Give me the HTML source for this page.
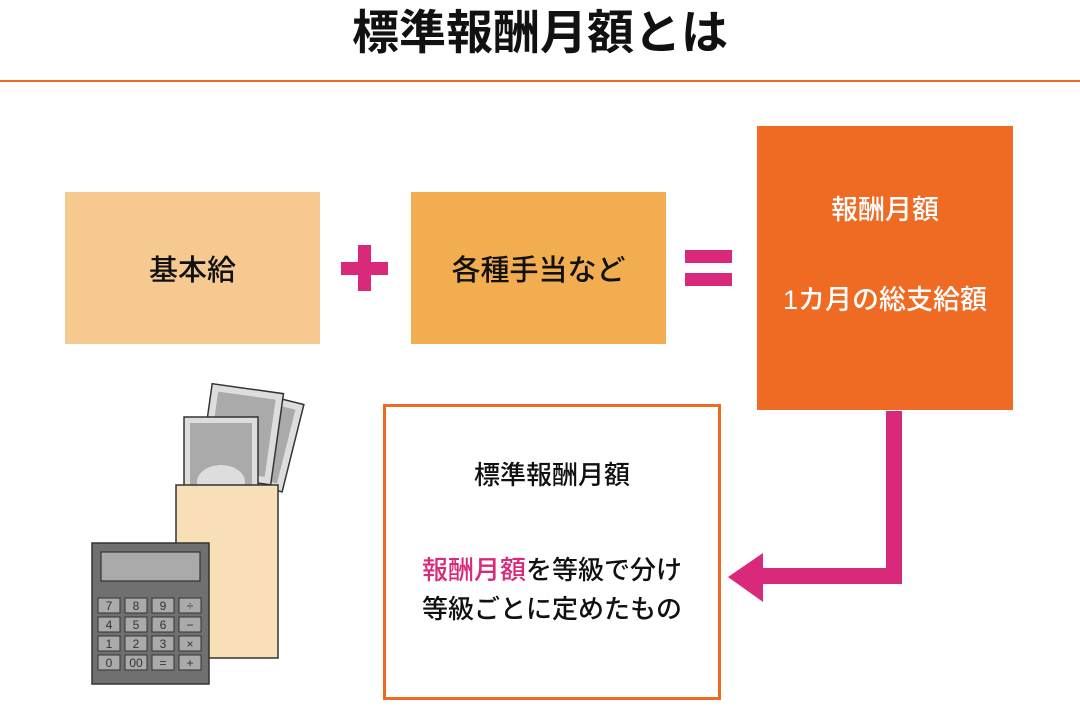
<!DOCTYPE html>
<html><head><meta charset="utf-8"><style>
body{margin:0;width:1080px;height:720px;background:#fff;position:relative;overflow:hidden;font-family:"Liberation Sans","Noto Sans CJK JP",sans-serif;}
.a{position:absolute;}
.c{display:flex;align-items:center;justify-content:center;white-space:nowrap;}
</style></head><body>
<div class="a c" style="left:0;top:0;width:1080px;height:56px;font-size:47px;font-weight:bold;color:#111;">標準報酬月額とは</div>
<div class="a" style="left:0;top:80px;width:1080px;height:2px;background:#ef6a23;"></div>
<div class="a c" style="left:65px;top:192px;width:255px;height:152px;background:#f5c98f;font-size:29px;font-weight:500;color:#111;">基本給</div>
<div class="a c" style="left:411px;top:192px;width:255px;height:152px;background:#f1ad4f;font-size:29px;font-weight:500;color:#111;">各種手当など</div>
<div class="a" style="left:341px;top:262px;width:47px;height:13px;background:#d9297a;"></div>
<div class="a" style="left:358px;top:245px;width:13px;height:46px;background:#d9297a;"></div>
<div class="a" style="left:685px;top:250px;width:47px;height:13px;background:#d9297a;"></div>
<div class="a" style="left:685px;top:273px;width:47px;height:13px;background:#d9297a;"></div>
<div class="a" style="left:757px;top:126px;width:256px;height:284px;background:#ef6a23;color:#fff;font-size:27px;font-weight:500;">
<div class="a c" style="left:0;top:63px;width:256px;height:36px;">報酬月額</div>
<div class="a c" style="left:0;top:153px;width:256px;height:36px;">1カ月の総支給額</div>
</div>
<svg class="a" style="left:0;top:0" width="1080" height="720">
<rect x="886" y="411" width="16" height="173" fill="#d9297a"/>
<rect x="760" y="568" width="142" height="16" fill="#d9297a"/>
<polygon points="728,577 763,553 763,602" fill="#d9297a"/>
<g transform="rotate(14 260 440)"><rect x="222" y="395" width="72" height="90" fill="#ddd" stroke="#333" stroke-width="1.5"/><rect x="229" y="402" width="58" height="76" fill="#aaa"/></g>
<g transform="rotate(8 240 430)"><rect x="206" y="388" width="72" height="92" fill="#ddd" stroke="#333" stroke-width="1.5"/><rect x="213" y="395" width="58" height="78" fill="#aaa"/></g>
<rect x="184" y="417" width="74" height="75" fill="#ddd" stroke="#333" stroke-width="1.5"/>
<rect x="190" y="423" width="62" height="69" fill="#aaa"/>
<ellipse cx="221" cy="482" rx="24" ry="17" fill="#ddd"/>
<rect x="176" y="485" width="102" height="173" fill="#f9dfb8" stroke="#333" stroke-width="1.5"/>
<rect x="92" y="543" width="117" height="141" fill="#707070" stroke="#333" stroke-width="1.5"/>
<rect x="101" y="552" width="99" height="29" fill="#aaa" stroke="#333" stroke-width="1.2"/>
<g font-family="Liberation Sans,DejaVu Sans,sans-serif" font-size="12" text-anchor="middle" fill="#333">
<rect x="98" y="598" width="22" height="15" fill="#aaa" stroke="#333"/><text x="109" y="610">7</text>
<rect x="125" y="598" width="22" height="15" fill="#aaa" stroke="#333"/><text x="136" y="610">8</text>
<rect x="152" y="598" width="22" height="15" fill="#aaa" stroke="#333"/><text x="163" y="610">9</text>
<rect x="179" y="598" width="22" height="15" fill="#aaa" stroke="#333"/><text x="190" y="610">÷</text>
<rect x="98" y="617" width="22" height="15" fill="#aaa" stroke="#333"/><text x="109" y="629">4</text>
<rect x="125" y="617" width="22" height="15" fill="#aaa" stroke="#333"/><text x="136" y="629">5</text>
<rect x="152" y="617" width="22" height="15" fill="#aaa" stroke="#333"/><text x="163" y="629">6</text>
<rect x="179" y="617" width="22" height="15" fill="#aaa" stroke="#333"/><text x="190" y="629">−</text>
<rect x="98" y="636" width="22" height="15" fill="#aaa" stroke="#333"/><text x="109" y="648">1</text>
<rect x="125" y="636" width="22" height="15" fill="#aaa" stroke="#333"/><text x="136" y="648">2</text>
<rect x="152" y="636" width="22" height="15" fill="#aaa" stroke="#333"/><text x="163" y="648">3</text>
<rect x="179" y="636" width="22" height="15" fill="#aaa" stroke="#333"/><text x="190" y="648">×</text>
<rect x="98" y="655" width="22" height="15" fill="#aaa" stroke="#333"/><text x="109" y="667">0</text>
<rect x="125" y="655" width="22" height="15" fill="#aaa" stroke="#333"/><text x="136" y="667">00</text>
<rect x="152" y="655" width="22" height="15" fill="#aaa" stroke="#333"/><text x="163" y="667">=</text>
<rect x="179" y="655" width="22" height="15" fill="#aaa" stroke="#333"/><text x="190" y="667">+</text>
</g>
</svg>
<div class="a" style="left:383px;top:404px;width:332px;height:290px;border:3px solid #ef6a23;color:#111;font-size:26px;font-weight:500;">
<div class="a c" style="left:0;top:48px;width:332px;height:36px;">標準報酬月額</div>
<div class="a c" style="left:0;top:143px;width:332px;height:36px;"><span style="color:#d9297a">報酬月額</span>を等級で分け</div>
<div class="a c" style="left:0;top:182px;width:332px;height:36px;">等級ごとに定めたもの</div>
</div>
</body></html>
